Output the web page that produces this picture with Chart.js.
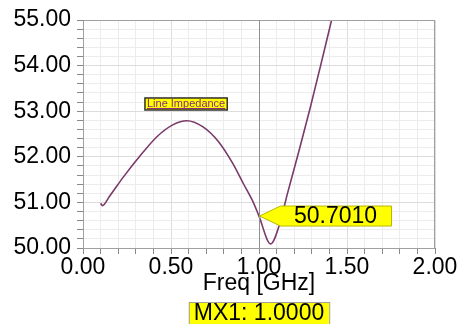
<!DOCTYPE html>
<html>
<head>
<meta charset="utf-8">
<script src="https://cdn.jsdelivr.net/npm/chart.js@4"></script>
<style>
  html, body { margin: 0; padding: 0; background: #fff; }
  #wrap { width: 461px; height: 324px; }
</style>
</head>
<body>
<div id="wrap"><canvas id="impChart"></canvas></div>
<script>
// trace
var freqs = [0.10, 0.11, 0.15, 0.23, 0.32, 0.42, 0.51, 0.59, 0.68, 0.77, 0.85, 0.91, 0.97, 1.00, 1.066, 1.12, 1.16, 1.23, 1.29, 1.35, 1.41, 1.45];
var imped = [50.98, 50.93, 51.13, 51.56, 52.00, 52.44, 52.70, 52.79, 52.66, 52.33, 51.86, 51.42, 50.98, 50.70, 50.09, 50.56, 51.17, 52.17, 53.06, 54.00, 54.96, 55.60];

var markerFreq = 1.0;
var markerValue = 50.7010;
var seriesName = 'Line Impedance';
var xTitle = 'Freq [GHz]';
var markerTitle = 'MX1: 1.0000';

var FONT = '"Liberation Sans", Arial, sans-serif';

var points = freqs.map(function(f, i) { return { x: f, y: imped[i] }; });

var decor = {
    id: 'decor',
    afterDraw: function(chart) {
        var c = chart.ctx, a = chart.chartArea;
        var xs = chart.scales.x, ys = chart.scales.y;
        c.save();

        // plot frame
        c.strokeStyle = '#a0a0a0';
        c.lineWidth = 1;
        c.strokeRect(a.left + 0.5, a.top + 0.5, a.right - a.left - 1, a.bottom - a.top);

        // marker line
        var mx = Math.round(xs.getPixelForValue(markerFreq)) + 0.5;
        c.strokeStyle = '#909090';
        c.beginPath();
        c.moveTo(mx, a.top);
        c.lineTo(mx, a.bottom);
        c.stroke();

        // marker flag
        var my = ys.getPixelForValue(markerValue);
        c.beginPath();
        c.moveTo(mx, my);
        c.lineTo(mx + 21, my - 10);
        c.lineTo(mx + 132, my - 10);
        c.lineTo(mx + 132, my + 10);
        c.lineTo(mx + 21, my + 10);
        c.closePath();
        c.fillStyle = '#ffff00';
        c.fill();
        c.strokeStyle = '#b8b800';
        c.stroke();
        c.fillStyle = '#000';
        c.font = '23px ' + FONT;
        c.textAlign = 'center';
        c.textBaseline = 'middle';
        c.fillText(markerValue.toFixed(4), mx + 76, my + 1);

        // series label
        var lx = xs.getPixelForValue(0.352), ly = ys.getPixelForValue(53.29);
        c.font = '11px ' + FONT;
        var tw = c.measureText(seriesName).width;
        c.fillStyle = '#ffff00';
        c.fillRect(lx, ly, tw + 4, 12);
        c.strokeStyle = '#303030';
        c.lineWidth = 1.5;
        c.strokeRect(lx, ly, tw + 4, 12);
        c.fillStyle = '#8a2a7a';
        c.textAlign = 'left';
        c.textBaseline = 'middle';
        c.fillText(seriesName, lx + 2, ly + 6);
        c.fillRect(lx + 2, ly + 10, tw, 1);

        // axis title and marker readout
        var cx = (a.left + a.right) / 2;
        c.fillStyle = '#000';
        c.font = '23px ' + FONT;
        c.textAlign = 'center';
        c.textBaseline = 'middle';
        c.fillText(xTitle, cx, a.bottom + 36);

        var bw = c.measureText(markerTitle).width + 10;
        c.fillStyle = '#ffff00';
        c.fillRect(cx - bw / 2, a.bottom + 54, bw, 24);
        c.strokeStyle = '#a0a0a0';
        c.lineWidth = 1;
        c.strokeRect(cx - bw / 2 + 0.5, a.bottom + 54.5, bw, 24);
        c.fillStyle = '#000';
        c.fillText(markerTitle, cx, a.bottom + 66);

        c.restore();
    }
};

var ctx = document.getElementById('impChart').getContext('2d');
var impChart = new Chart(ctx, {
    type: 'line',
    data: {
        datasets: [{
            label: seriesName,
            data: points,
            borderColor: '#7a3a6a',
            borderWidth: 1.6,
            pointRadius: 0,
            fill: false,
            cubicInterpolationMode: 'monotone'
        }]
    },
    options: {
        responsive: true,
        maintainAspectRatio: false,
        animation: false,
        layout: { padding: { left: 0, top: 20, right: 26, bottom: 0 } },
        plugins: {
            legend: { display: false },
            tooltip: { enabled: false }
        },
        scales: {
            x: {
                type: 'linear',
                min: 0,
                max: 2,
                afterFit: function(s) { s.height = 76; },
                afterBuildTicks: function(s) {
                    var t = [];
                    for (var i = 0; i <= 20; i++) t.push({ value: i / 10 });
                    s.ticks = t;
                },
                ticks: {
                    autoSkip: false,
                    maxRotation: 0,
                    padding: 0,
                    color: '#000',
                    font: { family: FONT, size: 23 },
                    callback: function(v) {
                        var k = Math.round(v * 10);
                        return k % 5 === 0 ? (k / 10).toFixed(2) : '';
                    }
                },
                grid: {
                    color: function(c) {
                        var k = Math.round(c.tick.value * 10);
                        return k % 5 === 0 ? '#dcdcdc' : '#ececec';
                    },
                    tickColor: '#888',
                    tickLength: 6
                },
                border: { display: false }
            },
            y: {
                min: 50,
                max: 55,
                afterFit: function(s) { s.width = 83; },
                afterBuildTicks: function(s) {
                    var t = [];
                    for (var i = 0; i <= 25; i++) t.push({ value: 50 + i / 5 });
                    s.ticks = t;
                },
                ticks: {
                    autoSkip: false,
                    padding: 6,
                    color: '#000',
                    font: { family: FONT, size: 23 },
                    callback: function(v) {
                        var k = Math.round(v * 5);
                        return k % 5 === 0 ? (k / 5).toFixed(2) : '';
                    }
                },
                grid: {
                    color: function(c) {
                        var k = Math.round(c.tick.value * 5);
                        return k % 5 === 0 ? '#dcdcdc' : '#ececec';
                    },
                    tickColor: '#888',
                    tickLength: 6
                },
                border: { display: false }
            }
        }
    },
    plugins: [decor]
});
</script>
</body>
</html>
